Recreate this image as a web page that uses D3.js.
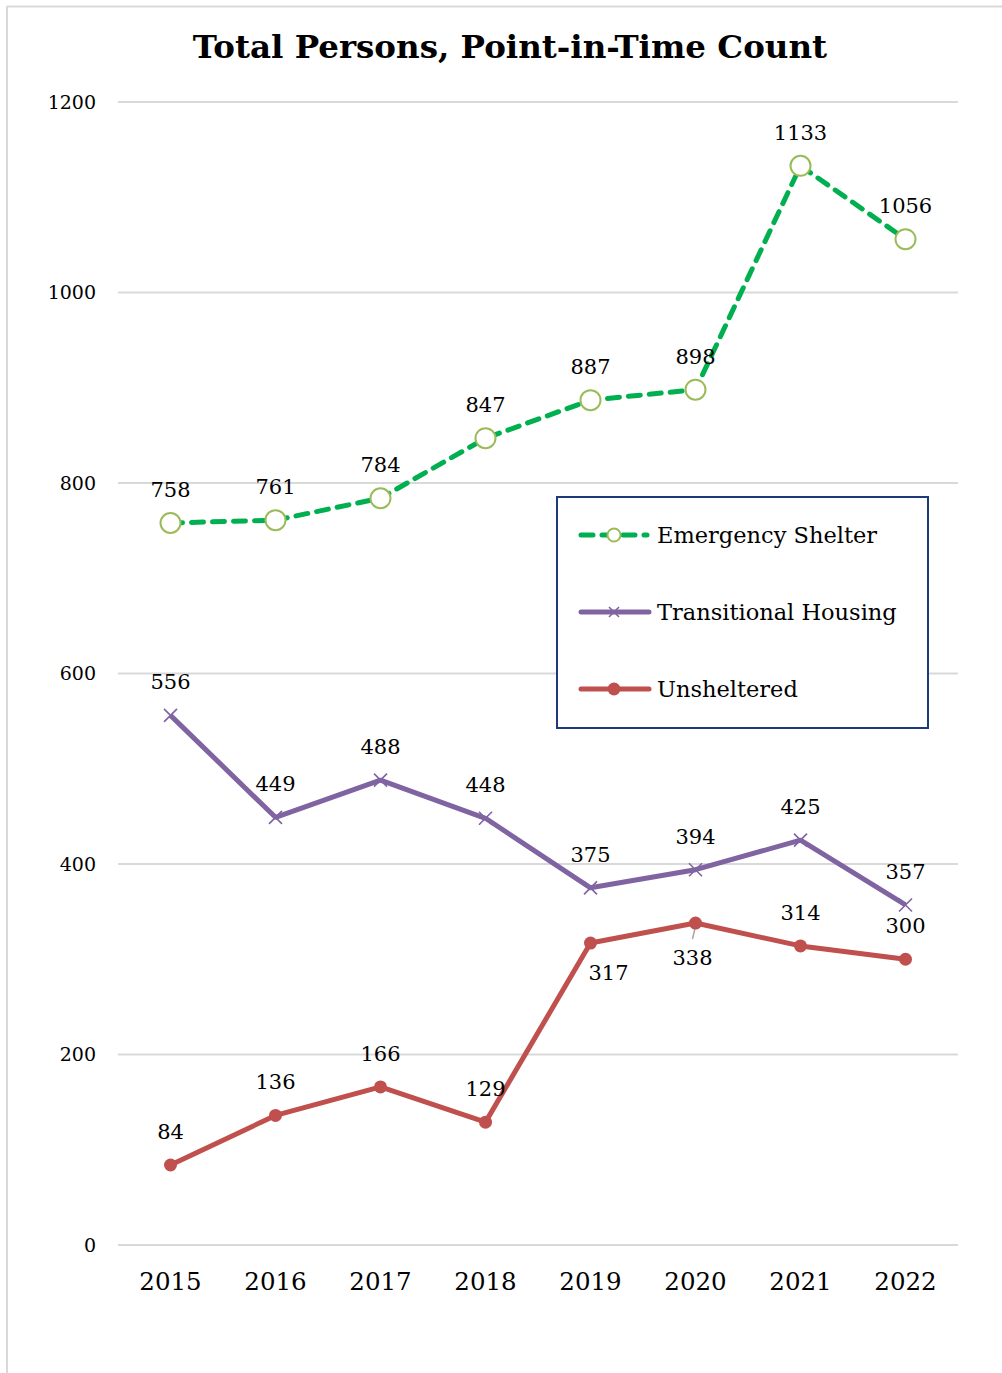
<!DOCTYPE html>
<html><head><meta charset="utf-8">
<script src="https://cdn.jsdelivr.net/npm/d3@7"></script>
<style>html,body{margin:0;padding:0;background:#fff;}</style>
</head><body>
<svg id="chart" width="1002" height="1373"></svg>
<script>
const years = ["2015","2016","2017","2018","2019","2020","2021","2022"];
const emergencyShelter = [758, 761, 784, 847, 887, 898, 1133, 1056];
const transitionalHousing = [556, 449, 488, 448, 375, 394, 425, 357];
const unsheltered = [84, 136, 166, 129, 317, 338, 314, 300];
const yTicks = [0, 200, 400, 600, 800, 1000, 1200];
const seriesNames = ["Emergency Shelter", "Transitional Housing", "Unsheltered"];
const chartTitle = "Total Persons, Point-in-Time Count";

const svg = d3.select("#chart");
const FONT = "'DejaVu Serif', 'Liberation Serif', serif";

// outer frame
svg.append("line").attr("x1",7).attr("x2",1002).attr("y1",6.5).attr("y2",6.5).attr("stroke","#d9d9d9").attr("stroke-width",2);
svg.append("line").attr("x1",7).attr("x2",7).attr("y1",6).attr("y2",1373).attr("stroke","#d9d9d9").attr("stroke-width",2);

const x = d3.scaleBand().domain(years).range([118, 958]);
const y = d3.scaleLinear().domain([0, 1200]).range([1245, 102]);
const cx = d => x(d) + x.bandwidth()/2;

// gridlines
svg.append("g").selectAll("line").data(yTicks).join("line")
  .attr("x1",118).attr("x2",958).attr("y1",d=>y(d)).attr("y2",d=>y(d))
  .attr("stroke","#d9d9d9").attr("stroke-width",2);

// y axis labels
const yAxis = d3.axisLeft(y).tickValues(yTicks).tickFormat(d3.format("d")).tickSize(0).tickPadding(0);
const gy = svg.append("g").attr("transform","translate(96,0)").call(yAxis);
gy.select(".domain").remove();
gy.selectAll("text").attr("font-family",FONT).attr("font-size",19).attr("fill","#000");

// x axis labels
const xAxis = d3.axisBottom(x).tickSize(0).tickPadding(0);
const gx = svg.append("g").attr("transform","translate(0,1273)").call(xAxis);
gx.select(".domain").remove();
gx.selectAll("text").attr("font-family",FONT).attr("font-size",24.5).attr("fill","#000").attr("dy","0.71em");

// title
svg.append("text").attr("x",510).attr("y",58).attr("text-anchor","middle")
  .attr("font-family",FONT).attr("font-weight","bold").attr("font-size",32.5).attr("fill","#000")
  .text(chartTitle);

const line = d3.line().x((d,i)=>cx(years[i])).y(d=>y(d));

// Unsheltered
svg.append("path").datum(unsheltered).attr("d",line).attr("fill","none")
  .attr("stroke","#C0504D").attr("stroke-width",5).attr("stroke-linejoin","round");
// leader line for 2020 label
svg.append("line").attr("x1",cx("2020")).attr("y1",y(338)+3).attr("x2",cx("2020")-3).attr("y2",y(338)+16)
  .attr("stroke","#a6a6a6").attr("stroke-width",1.5);
svg.append("g").selectAll("circle").data(unsheltered).join("circle")
  .attr("cx",(d,i)=>cx(years[i])).attr("cy",d=>y(d)).attr("r",6.5).attr("fill","#C0504D");

// Transitional Housing
svg.append("path").datum(transitionalHousing).attr("d",line).attr("fill","none")
  .attr("stroke","#8064A2").attr("stroke-width",5).attr("stroke-linejoin","round");
const xm = (g, px, py, s) => g.append("path")
  .attr("d",`M${px-s},${py-s}L${px+s},${py+s}M${px-s},${py+s}L${px+s},${py-s}`)
  .attr("stroke","#8064A2").attr("stroke-width",1.6);
const gT = svg.append("g");
transitionalHousing.forEach((d,i)=>xm(gT, cx(years[i]), y(d), 6.5));

// Emergency shelter
svg.append("path").datum(emergencyShelter).attr("d",line).attr("fill","none")
  .attr("stroke","#00B050").attr("stroke-width",5).attr("stroke-dasharray","12,9")
  .attr("stroke-linecap","round").attr("stroke-linejoin","round");
svg.append("g").selectAll("circle").data(emergencyShelter).join("circle")
  .attr("cx",(d,i)=>cx(years[i])).attr("cy",d=>y(d)).attr("r",10)
  .attr("fill","#fff").attr("stroke","#9BBB59").attr("stroke-width",2);

// data labels
function labels(vals, offsets){
  svg.append("g").selectAll("text").data(vals).join("text")
    .attr("x",(d,i)=>cx(years[i]) + (offsets[i] ? offsets[i][0] : 0))
    .attr("y",(d,i)=>y(d) + (offsets[i] ? offsets[i][1] : -26))
    .attr("text-anchor","middle").attr("font-family",FONT).attr("font-size",21).attr("fill","#000")
    .text(d=>d);
}
labels(emergencyShelter, [null,null,null,null,null,null,null,null]);
labels(transitionalHousing, [null,null,null,null,null,null,null,null]);
labels(unsheltered, [null,null,null,null,[18,37],[-3,42],null,null]);

// legend
const lg = svg.append("g");
lg.append("rect").attr("x",557).attr("y",497).attr("width",371).attr("height",231)
  .attr("fill","#fff").attr("stroke","#1F3A7A").attr("stroke-width",2);
const ly = [535, 612, 689];
// ES
lg.append("line").attr("x1",581).attr("x2",647).attr("y1",ly[0]).attr("y2",ly[0])
  .attr("stroke","#00B050").attr("stroke-width",5).attr("stroke-dasharray","12,9").attr("stroke-linecap","round");
lg.append("circle").attr("cx",614).attr("cy",ly[0]).attr("r",6.5).attr("fill","#fff").attr("stroke","#9BBB59").attr("stroke-width",2);
// TH
lg.append("line").attr("x1",581).attr("x2",649).attr("y1",ly[1]).attr("y2",ly[1])
  .attr("stroke","#8064A2").attr("stroke-width",5).attr("stroke-linecap","round");
xm(lg, 614, ly[1], 5);
// UN
lg.append("line").attr("x1",581).attr("x2",649).attr("y1",ly[2]).attr("y2",ly[2])
  .attr("stroke","#C0504D").attr("stroke-width",5).attr("stroke-linecap","round");
lg.append("circle").attr("cx",614).attr("cy",ly[2]).attr("r",6.5).attr("fill","#C0504D");
lg.selectAll("text.lt").data(seriesNames).join("text").attr("class","lt")
  .attr("x",657).attr("y",(d,i)=>ly[i]+8).attr("font-family",FONT).attr("font-size",22.5).attr("fill","#000")
  .text(d=>d);
</script>
</body></html>
